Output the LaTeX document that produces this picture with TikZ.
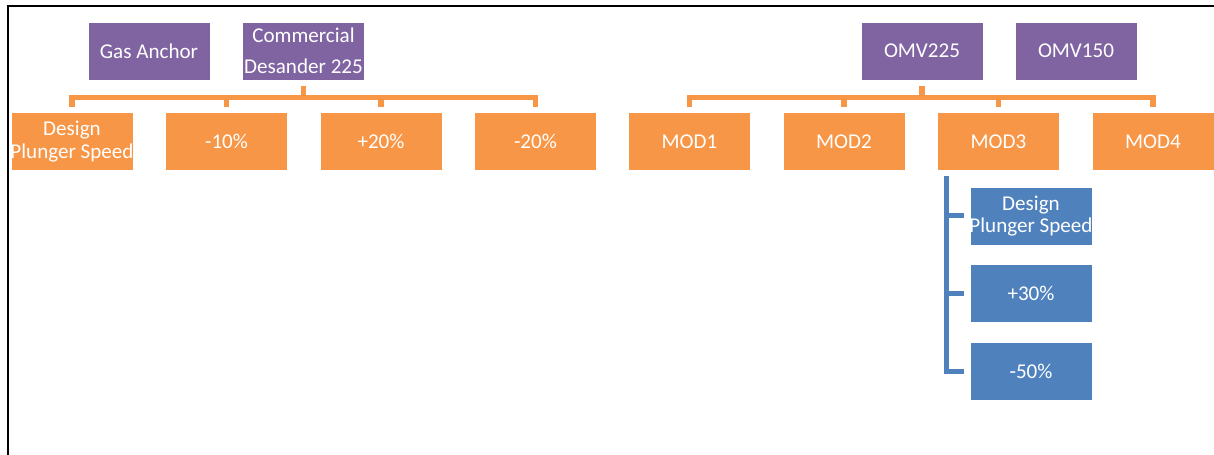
\documentclass[tikz,border=0pt]{standalone}
\usepackage{fontspec}
\setmainfont{Carlito}
\usepackage{xcolor}
\usepackage{tikz}
\usetikzlibrary{calc,positioning}
\definecolor{smpurple}{HTML}{8064A2}
\definecolor{smorange}{HTML}{F79646}
\definecolor{smblue}{HTML}{4F81BD}
% keep a long line from widening its box
\newcommand{\boxline}[1]{\makebox[2.44cm]{#1}}
\tikzset{
  box/.style={rectangle, draw=white, line width=0.3pt, text=white, inner sep=0pt, minimum width=2.44cm, minimum height=1.16cm, align=center, font=\fontsize{12}{12.8}\selectfont},
  purplebox/.style={box, fill=smpurple},
  orangebox/.style={box, fill=smorange},
  bluebox/.style={box, fill=smblue},
  oline/.style={draw=smorange, line width=0.11cm, shorten <=0.12cm, shorten >=0.1cm},
  bline/.style={draw=smblue, line width=0.1cm, shorten <=0.1cm, shorten >=0.12cm}
}

\begin{document}
\begin{tikzpicture}[x=0.02cm, y=-0.02cm]
  \useasboundingbox (0,0) rectangle (1214,455);
  \draw[line width=0.04cm] (8,455) -- (8,6) -- (1214,6);

  % separators and hydrocyclones
  \node[purplebox] (gas) at (149,51) {Gas Anchor};
  \node[purplebox, font=\fontsize{12}{17.6}\selectfont] (desander) at (303.5,51) {Commercial\\Desander 225};
  \node[purplebox] (omv225) at (922,51) {OMV225};
  \node[purplebox] (omv150) at (1076,51) {OMV150};

  % speed cases and modifications
  \node[orangebox] (speed) at (72,141.5) {Design\\\boxline{Plunger Speed}};
  \node[orangebox, right=0.64cm of speed] (minus10) {-10\%};
  \node[orangebox, right=0.64cm of minus10] (plus20) {+20\%};
  \node[orangebox, right=0.64cm of plus20] (minus20) {-20\%};
  \node[orangebox, right=0.63cm of minus20] (mod1) {MOD1};
  \node[orangebox, right=0.64cm of mod1] (mod2) {MOD2};
  \node[orangebox, right=0.64cm of mod2] (mod3) {MOD3};
  \node[orangebox, right=0.64cm of mod3] (mod4) {MOD4};

  % speeds tested on MOD3
  \node[bluebox] (mspeed) at (1031,216) {Design\\\boxline{Plunger Speed}};
  \node[bluebox, below=0.38cm of mspeed] (plus30) {+30\%};
  \node[bluebox, below=0.38cm of plus30] (minus50) {-50\%};

  \foreach \c in {speed,minus10,plus20,minus20}
    \draw[oline] (desander.south) -- ++(0,17) -| (\c.north);
  \foreach \c in {mod1,mod2,mod3,mod4}
    \draw[oline] (omv225.south) -- ++(0,17) -| (\c.north);
  \foreach \c in {mspeed,plus30,minus50}
    \draw[bline] ([xshift=0.18cm]mod3.south west) |- (\c.west);
\end{tikzpicture}
\end{document}
